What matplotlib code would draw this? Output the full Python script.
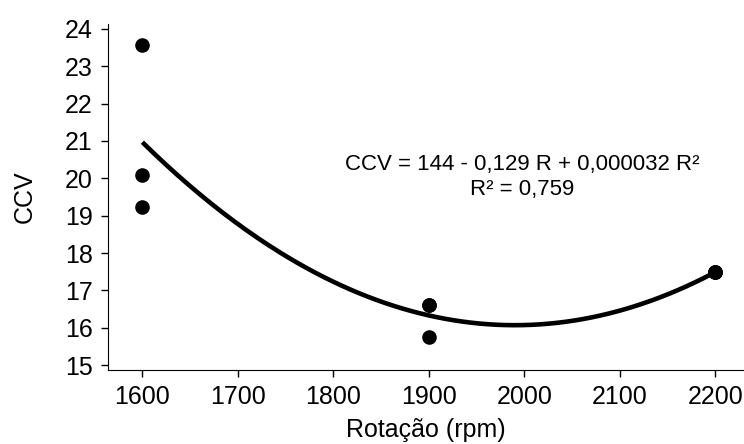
import numpy as np
import matplotlib.pyplot as plt

plt.rcParams['font.family'] = ['Liberation Sans', 'DejaVu Sans']

# --[data (some points overlap)]-----------------------------------------------
rotacao = [1600, 1600, 1600, 1900, 1900, 1900, 2200, 2200, 2200]
ccv = [23.58, 20.09, 19.23, 16.62, 16.62, 15.75, 17.49, 17.49, 17.49]
x_ticks = [1600, 1700, 1800, 1900, 2000, 2100, 2200]
y_ticks = [15, 16, 17, 18, 19, 20, 21, 22, 23, 24]

# --[quadratic fit]-------------------------------------------------------------
coef = np.polyfit(rotacao, ccv, 2)
xs = np.linspace(1600, 2200, 200)
ys = np.polyval(coef, xs)

# --[plot]----------------------------------------------------------------------
fig = plt.figure(figsize=(7.44, 4.44), dpi=100)
ax = fig.add_axes([108/744, 74/444, 636/744, 346/444])

ax.plot(xs, ys, color='black', lw=3.3, solid_capstyle='butt')
ax.scatter(rotacao, ccv, s=90, color='black', zorder=3)

ax.set_xlim(1564, 2230)
ax.set_ylim(14.87, 24.13)
ax.set_xticks(x_ticks)
ax.set_yticks(y_ticks)
ax.tick_params(labelsize=18, direction='out', length=5, width=1)
ax.tick_params(axis='x', pad=6)
ax.tick_params(axis='y', pad=6)
for s in ['top', 'right']:
    ax.spines[s].set_visible(False)

ax.set_xlabel('Rotação (rpm)', fontsize=18, labelpad=6)
ax.set_ylabel('CCV', fontsize=18, labelpad=20)

ax.text(0.651, 0.558, 'CCV = 144 - 0,129 R + 0,000032 R²\nR² = 0,759',
        transform=ax.transAxes, ha='center', va='center', fontsize=16,
        linespacing=1.2, multialignment='center')

fig.savefig('out.png', dpi=100)
